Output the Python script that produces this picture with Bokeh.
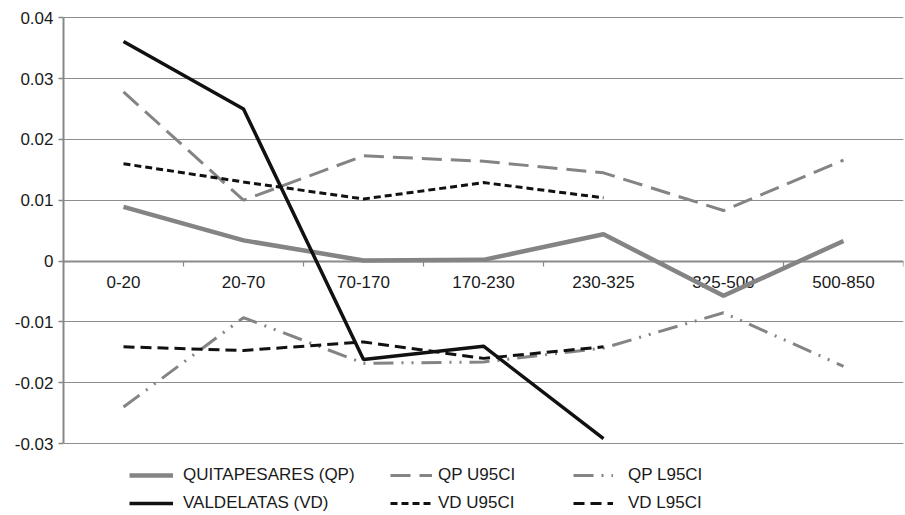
from bokeh.plotting import figure
from bokeh.models import Range1d, FixedTicker, Legend, LegendItem
from bokeh.embed import file_html
from bokeh.resources import INLINE

categories = ["0-20", "20-70", "70-170", "170-230", "230-325", "325-500", "500-850"]
qp = [0.0089, 0.0034, 0.0001, 0.0002, 0.0044, -0.0057, 0.0033]
qp_u95 = [0.0278, 0.0100, 0.0173, 0.0164, 0.0145, 0.0083, 0.0166]
qp_l95 = [-0.0240, -0.0093, -0.0168, -0.0166, -0.0143, -0.0085, -0.0173]
vd = [0.0361, 0.0250, -0.0162, -0.0140, -0.0292]
vd_u95 = [0.0160, 0.0130, 0.0102, 0.0129, 0.0104]
vd_l95 = [-0.0141, -0.0147, -0.0133, -0.0160, -0.0141]
yticks = [-0.03, -0.02, -0.01, 0.0, 0.01, 0.02, 0.03, 0.04]
ytick_labels = ["-0.03", "-0.02", "-0.01", "0", "0.01", "0.02", "0.03", "0.04"]

n = len(categories)
xs = [i + 0.5 for i in range(n)]
xs_vd = xs[:len(vd)]

GRAY = "#848484"
BLACK = "#111111"
AXIS = "#878787"
FONT = "Liberation Sans"
TXT = "#1a1a1a"

# frame extends down to the legend area; the y axis line is bounded to the ticks
p = figure(width=905, height=515, output_backend="svg", toolbar_location=None,
           x_range=Range1d(0, n), y_range=Range1d(-0.0415, 0.0402),
           min_border_left=63, min_border_right=2, min_border_top=16,
           min_border_bottom=2)
p.outline_line_color = None
p.background_fill_color = "white"
p.border_fill_color = "white"

p.xgrid.visible = False
p.ygrid.ticker = FixedTicker(ticks=yticks)
p.ygrid.grid_line_color = "#8c8c8c"
p.ygrid.grid_line_width = 1.2

# y axis
ya = p.yaxis[0]
ya.ticker = FixedTicker(ticks=yticks)
ya.bounds = (min(yticks), max(yticks))
ya.major_label_overrides = dict(zip(yticks, ytick_labels))
ya.axis_line_color = AXIS
ya.axis_line_width = 2
ya.major_tick_line_color = AXIS
ya.major_tick_line_width = 1.5
ya.major_tick_out = 5
ya.major_tick_in = 0
ya.minor_tick_line_color = None
ya.major_label_standoff = 5
ya.major_label_text_font = FONT
ya.major_label_text_font_size = "17px"
ya.major_label_text_color = TXT

# x axis at zero
xa = p.xaxis[0]
xa.fixed_location = 0
xa.ticker = FixedTicker(ticks=xs, minor_ticks=list(range(n + 1)))
xa.major_label_overrides = dict(zip(xs, categories))
xa.axis_line_color = AXIS
xa.axis_line_width = 2
xa.major_tick_line_color = None
xa.minor_tick_line_color = AXIS
xa.minor_tick_line_width = 1.2
xa.minor_tick_out = 5
xa.minor_tick_in = 0
xa.major_label_standoff = 9
xa.major_label_text_font = FONT
xa.major_label_text_font_size = "17px"
xa.major_label_text_color = TXT
xa.level = "underlay"

r_qp_l = p.line(xs, qp_l95, line_color=GRAY, line_width=3, line_dash="20 8 2 8 2 8")
r_qp_u = p.line(xs, qp_u95, line_color=GRAY, line_width=3, line_dash="20 9")
r_qp = p.line(xs, qp, line_color=GRAY, line_width=4.5)
r_vd_l = p.line(xs_vd, vd_l95, line_color=BLACK, line_width=3, line_dash="11 6")
r_vd_u = p.line(xs_vd, vd_u95, line_color=BLACK, line_width=3, line_dash="7 4")
r_vd = p.line(xs_vd, vd, line_color=BLACK, line_width=3.5)


def make_legend(items, x, gw, standoff):
    leg = Legend(items=items, location=(x, 0), orientation="vertical")
    leg.border_line_color = None
    leg.background_fill_alpha = 0
    leg.padding = 0
    leg.margin = 0
    leg.spacing = 8
    leg.glyph_width = gw
    leg.glyph_height = 18
    leg.label_height = 18
    leg.label_standoff = standoff
    leg.label_text_font = FONT
    leg.label_text_font_size = "17px"
    leg.label_text_color = TXT
    return leg


leg1 = make_legend([LegendItem(label="QUITAPESARES (QP)", renderers=[r_qp]),
                    LegendItem(label="VALDELATAS (VD)", renderers=[r_vd])], 66, 44, 10)
leg2 = make_legend([LegendItem(label="QP U95CI", renderers=[r_qp_u]),
                    LegendItem(label="VD U95CI", renderers=[r_vd_u])], 327, 42, 6)
leg3 = make_legend([LegendItem(label="QP L95CI", renderers=[r_qp_l]),
                    LegendItem(label="VD L95CI", renderers=[r_vd_l])], 510, 40, 15)
p.add_layout(leg1)
p.add_layout(leg2)
p.add_layout(leg3)

open("out.html", "w").write(file_html(p, INLINE))
